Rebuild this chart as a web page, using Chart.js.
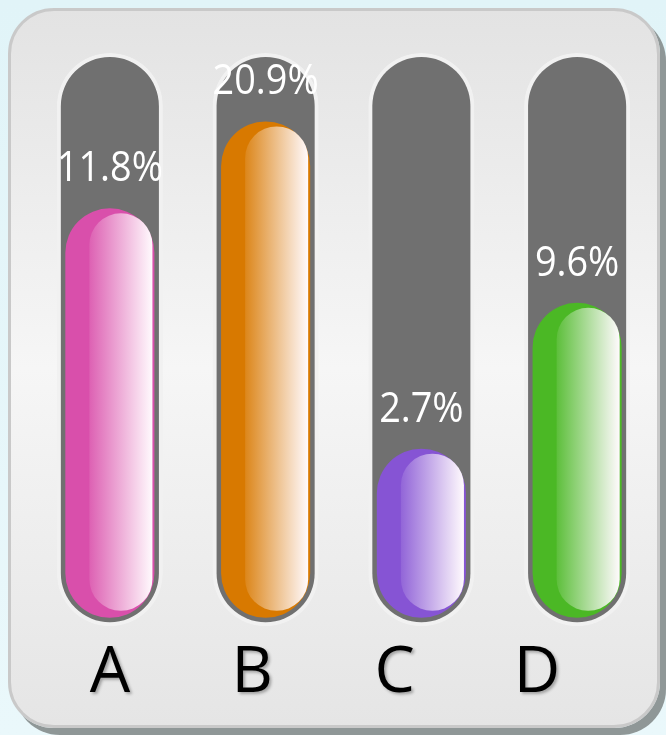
<!DOCTYPE html>
<html>
<head>
<meta charset="utf-8">
<script src="https://cdn.jsdelivr.net/npm/chart.js@4.4.1/dist/chart.umd.min.js"></script>
<style>
    html, body { margin: 0; padding: 0; }
    body {
        width: 666px; height: 735px; overflow: hidden; position: relative;
        background: linear-gradient(#e1f4f8, #eaf8fb);
    }
    .panel {
        position: absolute; left: 8px; top: 8px; width: 652px; height: 720px;
        box-sizing: border-box; border: 3px solid #c9c9c9; border-radius: 46px;
        background: linear-gradient(#e3e3e3 0%, #f6f6f6 50%, #e5e5e5 100%);
        box-shadow: 6px 7px 0 #8f9797;
    }
    #chart { position: absolute; left: 0; top: 0; }
</style>
</head>
<body>
<div class="panel"></div>
<canvas id="chart" width="666" height="735"></canvas>
<script>
// --- Data ---
const CATEGORIES = ['A', 'B', 'C', 'D'];
const VALUES = [11.8, 20.9, 2.7, 9.6];            // printed percentages
const FILL_LEVELS = [73.6, 89.2, 30.4, 56.6];     // how full each tube is drawn (0-100)
const FILL_COLORS = ['#d94fab', '#d87900', '#8654d4', '#4bb825'];

// Tube (track) spans slightly past the 0..100 fill range, ring included.
const TRACK_MIN = -1.5;
const TRACK_MAX = 101.5;

// --- Helpers ---
function lighten(hex, amt) {
    const n = parseInt(hex.slice(1), 16);
    const r = (n >> 16) & 255, g = (n >> 8) & 255, b = n & 255;
    const f = (c) => Math.round(c + (255 - c) * amt);
    return `rgb(${f(r)},${f(g)},${f(b)})`;
}

// glossPlugin paints the inner glassy highlight on each filled tube.
const glossPlugin = {
    id: 'gloss',
    afterDatasetDraw(chart, args) {
        if (args.index !== 0) return;
        const { ctx } = chart;
        args.meta.data.forEach((bar, i) => {
            const { x, y, base, width } = bar.getProps(['x', 'y', 'base', 'width'], true);
            const left = x - width / 2;
            const right = x + width / 2;
            const hx0 = left + width * 0.27;
            const hx1 = right - 2;
            const hy0 = y + 5;
            const hy1 = base - 7;
            const r = (hx1 - hx0) / 2;
            const grad = ctx.createLinearGradient(hx0, 0, hx1, 0);
            grad.addColorStop(0, lighten(FILL_COLORS[i], 0.1));
            grad.addColorStop(1, '#fffafd');
            ctx.save();
            ctx.fillStyle = grad;
            ctx.beginPath();
            ctx.roundRect(hx0, hy0, hx1 - hx0, hy1 - hy0, r);
            ctx.fill();
            ctx.restore();
        });
    },
};

// valueLabelPlugin prints the white percentage above each fill.
const valueLabelPlugin = {
    id: 'valueLabels',
    afterDatasetsDraw(chart) {
        const { ctx } = chart;
        const meta = chart.getDatasetMeta(0);
        ctx.save();
        ctx.font = '42px "Open Sans", sans-serif';
        ctx.fillStyle = '#ffffff';
        ctx.textAlign = 'center';
        ctx.textBaseline = 'alphabetic';
        meta.data.forEach((bar, i) => {
            ctx.save();
            ctx.translate(bar.x, bar.y - 27);
            ctx.scale(0.9, 1);
            ctx.fillText(VALUES[i].toFixed(1) + '%', 0, 0);
            ctx.restore();
        });
        ctx.restore();
    },
};

// Soft drop shadow for the category letters (scales draw before datasets).
const tickShadowPlugin = {
    id: 'tickShadow',
    beforeDraw(chart) {
        const { ctx } = chart;
        ctx.shadowColor = 'rgba(0,0,0,0.3)';
        ctx.shadowOffsetX = 2;
        ctx.shadowOffsetY = 2;
        ctx.shadowBlur = 3;
    },
    beforeDatasetsDraw(chart) {
        const { ctx } = chart;
        ctx.shadowColor = 'rgba(0,0,0,0)';
        ctx.shadowOffsetX = 0;
        ctx.shadowOffsetY = 0;
        ctx.shadowBlur = 0;
    },
};

new Chart(document.getElementById('chart'), {
    type: 'bar',
    data: {
        labels: CATEGORIES,
        datasets: [
            {
                data: FILL_LEVELS,
                backgroundColor: FILL_COLORS,
                borderRadius: 200,
                borderSkipped: false,
                barPercentage: 0.572,
                categoryPercentage: 1,
                grouped: false,
                order: 0,
            },
            {
                data: CATEGORIES.map(() => TRACK_MAX),
                base: TRACK_MIN,
                backgroundColor: '#707070',
                borderColor: '#f1f1f1',
                borderWidth: 4,
                borderRadius: 200,
                borderSkipped: false,
                barPercentage: 0.681,
                categoryPercentage: 1,
                grouped: false,
                order: 1,
            },
        ],
    },
    options: {
        responsive: false,
        animation: false,
        layout: { padding: { left: 32, right: 11, top: 53, bottom: 14 } },
        plugins: { legend: { display: false }, tooltip: { enabled: false } },
        scales: {
            x: { display: false },
            y: { display: false, min: TRACK_MIN, max: TRACK_MAX },
            // letters sit on their own slightly tighter spacing than the tubes
            xl: {
                type: 'linear',
                position: 'bottom',
                offset: false,
                min: -0.548,
                max: 3.83,
                grid: { display: false, drawTicks: false, offset: false },
                border: { display: false },
                ticks: {
                    stepSize: 1,
                    includeBounds: false,
                    autoSkip: false,
                    maxRotation: 0,
                    padding: 9,
                    color: '#000000',
                    font: { family: '"Open Sans", sans-serif', size: 64 },
                    callback: (v) => CATEGORIES[v] ?? '',
                },
            },
        },
    },
    plugins: [glossPlugin, valueLabelPlugin, tickShadowPlugin],
});
</script>
</body>
</html>
